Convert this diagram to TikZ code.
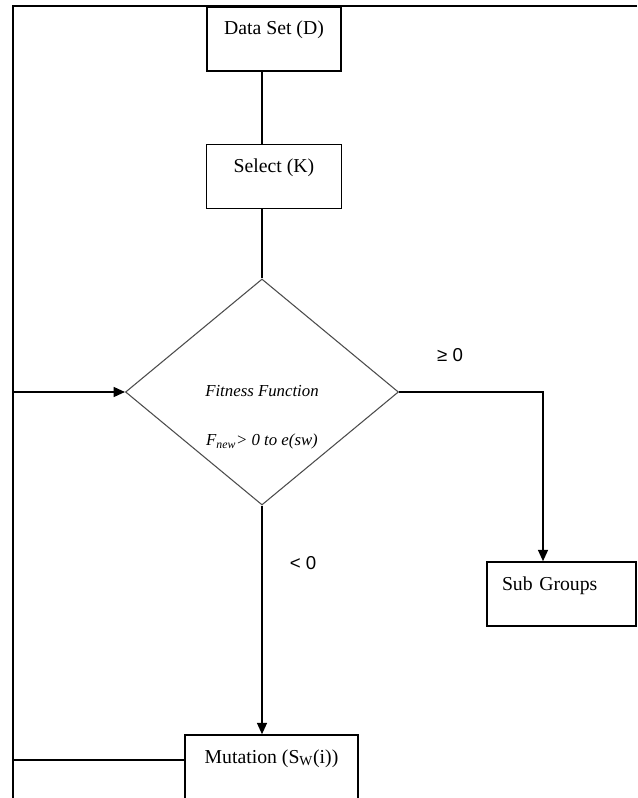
\documentclass[tikz,border=0pt]{standalone}
\usepackage{fontspec}
\setmainfont{Liberation Serif}
\newfontfamily\arialfont{Liberation Sans}
\usetikzlibrary{shapes,arrows.meta,positioning}

\begin{document}
\begin{tikzpicture}[x=0.75pt, y=-0.75pt, >={Triangle[length=8.5pt, width=7.5pt]}, line width=1.1pt, node distance=54pt]

\tikzstyle{box}=[
    rectangle,
    draw=black,
    line width=1.2pt,
    inner xsep=0pt,
    inner ysep=0pt,
    minimum height=48pt,
    text height=21pt,
    text depth=27pt,
    font=\fontsize{14.8pt}{17pt}\selectfont
]
\tikzstyle{branch}=[font=\arialfont\fontsize{14pt}{16pt}\selectfont]

\useasboundingbox (0,0) rectangle (637,798);

\node[box, minimum width=100.5pt] (Data_Set) at (274,39) {Data Set (D)};
\node[box, minimum width=101.25pt] (Select) [below=54pt of Data_Set] {Select (K)};
\node[diamond, draw=black!70, line width=0.8pt, inner sep=0pt, minimum width=204.75pt, minimum height=169.5pt] (Fit) at (262,392) {};
\node[font=\itshape\fontsize{12.6pt}{36.75pt}\selectfont, align=center] (Fit_Text) at ([yshift=-19pt]Fit.center) {Fitness Function\\F\textsubscript{new}> 0 to e(sw)};
\node[box, text width=89.25pt, inner xsep=11.25pt, align=left] (Sub_Groups) at (561.5,594) {Sub Groups};
\node[box, minimum width=129.75pt] (Mutation) at (271.5,767) {Mutation (S\textsubscript{W}(i))};

\node[branch] (Ge_Zero) at (450,355) {≥ 0};
\node[branch] (Lt_Zero) at (303,563) {< 0};

\coordinate (Turn) at (543,392);
\coordinate (Loop) at (12.5,760);

\draw[line width=1.5pt] (637,6) -- (12.5,6) -- (12.5,798);

\path
(Data_Set.south -| Fit.north) edge[-] (Select.north -| Fit.north)
(Select.south -| Fit.north) edge[-] (Fit.north)
(Fit.south) edge[->] (Fit.south |- Mutation.north);

\draw[->] (Fit.east) -- (Turn) -- (Turn |- Sub_Groups.north);
\draw[->] ([yshift=5.25pt]Mutation.west) -- (Loop) |- (Fit.west);

\end{tikzpicture}
\end{document}
